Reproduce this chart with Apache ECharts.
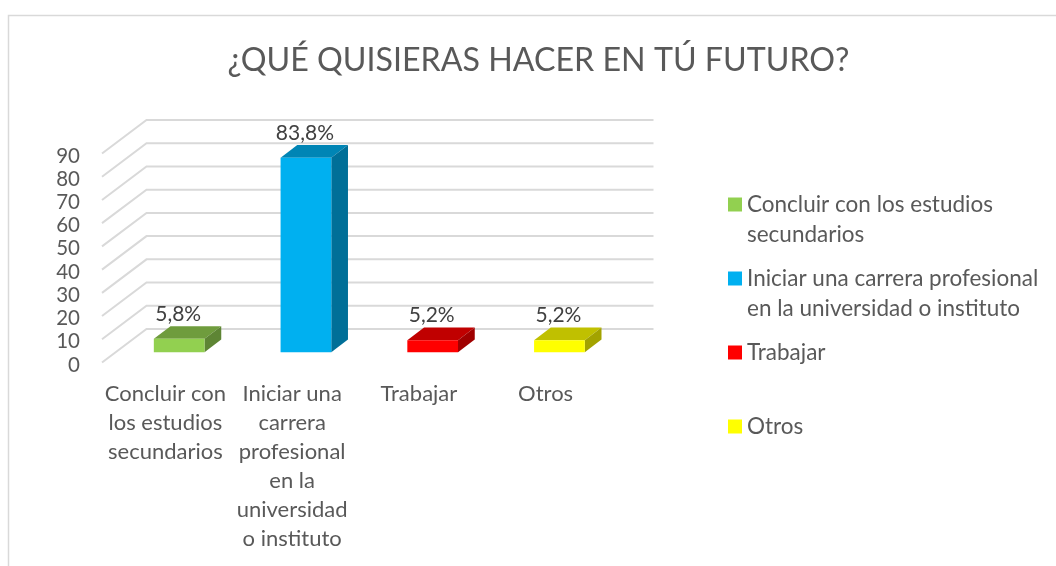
<!DOCTYPE html>
<html><head><meta charset="utf-8">
<style>html,body{margin:0;padding:0;background:#fff}#c{width:1056px;height:566px}</style>
<script src="https://cdn.jsdelivr.net/npm/echarts@6/dist/echarts.min.js"></script>
</head><body><div id="c"></div>
<script>
const titleText = '¿QUÉ QUISIERAS HACER EN TÚ FUTURO?';
const categories = ['Concluir con los estudios secundarios','Iniciar una carrera profesional en la universidad o instituto','Trabajar','Otros'];
const axisLabels = ['Concluir con\nlos estudios\nsecundarios','Iniciar una\ncarrera\nprofesional\nen la\nuniversidad\no instituto','Trabajar','Otros'];
const legendLabels = ['Concluir con los estudios\nsecundarios','Iniciar una carrera profesional\nen la universidad o instituto','Trabajar','Otros'];
const values = [5.8, 83.8, 5.2, 5.2];
const valueLabels = ['5,8%','83,8%','5,2%','5,2%'];
const yTicks = [0,10,20,30,40,50,60,70,80,90];
const frontColors = ['#92D050','#00B0F0','#FF0000','#FFFF00'];
const topColors = ['#6F9C3D','#0085B5','#C00000','#C0C000'];
const sideColors = ['#5E8534','#006F98','#A00000','#A3A300'];

const FONT = 'Lato';
const TEXT = '#595959';
const WALL_DX = 44.5, WALL_DY = -33.5;
const BAR_LIFT_X = 13.8, BAR_LIFT_Y = -10.2, BAR_DX = 16.7, BAR_DY = -12.7;

function poly(pts, fill){ return {type:'polygon', shape:{points:pts}, style:{fill:fill}}; }

function renderWall(params, api){
  const y = api.coord([0, api.value(1)])[1];
  const cs = params.coordSys;
  return {type:'polyline', silent:true,
    shape:{points:[[cs.x, y],[cs.x+WALL_DX, y+WALL_DY],[cs.x+cs.width+WALL_DX, y+WALL_DY]]},
    style:{stroke:'#D9D9D9', lineWidth:2, fill:null}};
}
function makeBarRenderer(i){
  return function(params, api){
    const cat = api.value(0), val = api.value(1);
    const top = api.coord([cat,val]), base = api.coord([cat,0]);
    const w = api.size([1,0])[0]*0.4;
    const x0 = top[0]+BAR_LIFT_X-w/2, x1 = x0+w;
    const yT = top[1]+BAR_LIFT_Y, yB = base[1]+BAR_LIFT_Y;
    return {type:'group', children:[
      poly([[x0,yT],[x1,yT],[x1+BAR_DX,yT+BAR_DY],[x0+BAR_DX,yT+BAR_DY]], topColors[i]),
      poly([[x1,yT],[x1+BAR_DX,yT+BAR_DY],[x1+BAR_DX,yB+BAR_DY],[x1,yB]], sideColors[i]),
      {type:'rect', shape:{x:x0,y:yT,width:w,height:yB-yT}, style:{fill:frontColors[i]}},
      {type:'text', style:{x:(x0+x1)/2-1, y:yT+BAR_DY-12, text:valueLabels[i], fill:'#404040',
        font:'21px '+FONT, align:'center', verticalAlign:'middle'}}
    ]};
  };
}
const legendTops = [159.5, 233.5, 337.5, 411.5];
const option = {
  animation:false,
  title:{text:titleText, left:533.5, top:40, textAlign:'center',
    textStyle:{fontFamily:FONT, fontSize:32.2, fontWeight:'normal', color:TEXT}},
  grid:{left:102, top:153.5, width:507, height:209},
  xAxis:{type:'category', data:categories, axisLine:{show:false}, axisTick:{show:false}, splitLine:{show:false},
    axisLabel:{interval:0, margin:17, color:TEXT, fontFamily:FONT, fontSize:22, lineHeight:29,
      verticalAlign:'top', formatter:(v,i)=>axisLabels[i]}},
  yAxis:{type:'value', min:0, max:90, interval:10, axisLine:{show:false}, axisTick:{show:false}, splitLine:{show:false},
    axisLabel:{margin:22, color:TEXT, fontFamily:FONT, fontSize:20.5, verticalAlign:'top', lineHeight:5}},
  legend:categories.map((c,i)=>({data:[c], left:728, top:legendTops[i], padding:0, orient:'vertical', itemWidth:14, itemHeight:14,
    icon:'rect', selectedMode:false,
    textStyle:{color:TEXT, fontFamily:FONT, fontSize:22.5, lineHeight:30},
    formatter:()=> (legendLabels[i].indexOf('\n')>=0 ? '\n' : '')+legendLabels[i]})),
  series:[
    {type:'custom', name:'wall', silent:true, z:1, renderItem:renderWall, data:yTicks.map(v=>[0,v]), encode:{x:0,y:1}},
    ...categories.map((c,i)=>({type:'custom', name:c, z:2, renderItem:makeBarRenderer(i),
      itemStyle:{color:frontColors[i]}, data:[[i,values[i]]], encode:{x:0,y:1}}))
  ],
  graphic:[{type:'polyline', silent:true, shape:{points:[[8.5,570],[8.5,15.5],[1060,15.5]]},
    style:{stroke:'#D9D9D9', lineWidth:1.5, fill:null}}]
};
echarts.init(document.getElementById('c')).setOption(option);
</script></body></html>
